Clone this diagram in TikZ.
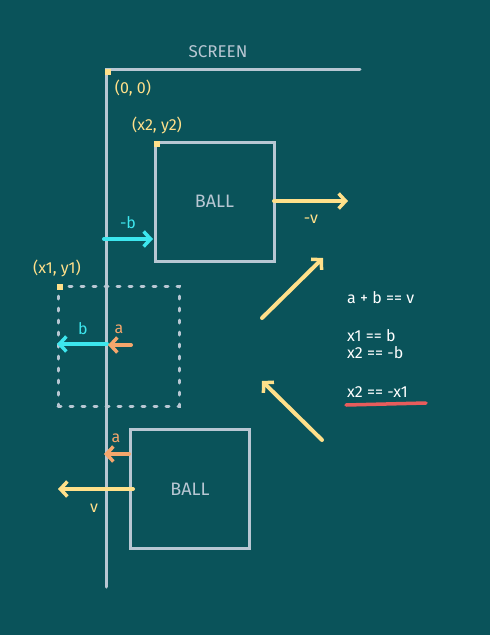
\documentclass[tikz,border=0pt]{standalone}
\usepackage{fontspec}
\setmainfont{Fira Sans}
\usetikzlibrary{arrows.meta}
\definecolor{bg}{HTML}{0A535A}
\definecolor{ln}{HTML}{B8C7D3}
\definecolor{yel}{HTML}{FFE08A}
\definecolor{cya}{HTML}{3DE6EE}
\definecolor{ora}{HTML}{F5A66C}
\definecolor{redu}{HTML}{E85C5C}
\tikzset{
  box/.style={draw=ln, line width=3pt, minimum width=119pt, minimum height=119pt, inner sep=0pt, text=ln, font=\fontsize{18}{21}\selectfont},
  axis/.style={draw=ln, line width=3pt, line cap=round},
  arr/.style={line width=4pt, line cap=round, -{Straight Barb[length=7pt, width=15pt, line width=3.5pt]}},
  lbl/.style={font=\fontsize{16}{19}\selectfont, inner sep=0pt},
  eq/.style={font=\fontsize{16}{19}\selectfont, inner sep=0pt, text=white, anchor=west},
  dot/.style={fill=yel, minimum size=6pt, inner sep=0pt},
}
\begin{document}
\begin{tikzpicture}[x=1pt,y=-1pt]
\fill[bg] (0,0) rectangle (490,635);
\useasboundingbox (0,0) rectangle (490,635);
% screen
\node[lbl, text=ln, font=\fontsize{17}{20}\selectfont] (screen) at (218,52) {SCREEN};
\coordinate (o) at (106,69);
\coordinate (oe) at (360,69);
\coordinate (os) at (106,587);
\draw[axis] (oe) -- (o) -- (os);
\node[dot] (d0) at (108,72) {};
\node[lbl, text=yel] (l00) at (133,88) {(0, 0)};
% ball 1
\node[box] (ball1) at (214.5,201.5) {BALL};
\node[dot] (d2) at (156.5,143.5) {};
\node[lbl, text=yel] (lx2) at (157,125) {(x2, y2)};
\coordinate (v1s) at (274,201);
\coordinate (v1e) at (348,201);
\draw[arr, yel] (v1s) -- (v1e);
\node[lbl, text=yel] (lmv) at (311,219) {-v};
\coordinate (b1s) at (104,239);
\coordinate (b1e) at (153,239);
\draw[arr, cya] (b1s) -- (b1e);
\node[lbl, text=cya] (lmb) at (128,223) {-b};
% dashed ghost
\node[draw=ln, line width=3pt, dash pattern=on 3pt off 9pt, line cap=round, minimum width=121pt, minimum height=120pt, inner sep=0pt] (ghost) at (118.5,346) {};
\node[dot] (d1) at (60,287) {};
\node[lbl, text=yel] (lx1) at (57,268) {(x1, y1)};
\coordinate (bs) at (107,344);
\coordinate (be) at (57,344);
\draw[arr, cya] (bs) -- (be);
\node[lbl, text=cya] (lb) at (83,329) {b};
\coordinate (as) at (131,345);
\coordinate (ae) at (108,345);
\draw[arr, ora] (as) -- (ae);
\node[lbl, text=ora] (la) at (119,329) {a};
% ball 2
\node[box] (ball2) at (190,489) {BALL};
\coordinate (a2s) at (129,454);
\coordinate (a2e) at (104,454);
\draw[arr, ora] (a2s) -- (a2e);
\node[lbl, text=ora] (la2) at (116,438) {a};
\coordinate (v2s) at (133,489);
\coordinate (v2e) at (58,489);
\draw[arr, yel] (v2s) -- (v2e);
\node[lbl, text=yel] (lv) at (94,508) {v};
% diagonal arrows
\coordinate (d1s) at (262,318);
\coordinate (d1e) at (323,258);
\draw[arr, yel] (d1s) -- (d1e);
\coordinate (d2s) at (322,440);
\coordinate (d2e) at (262,381);
\draw[arr, yel] (d2s) -- (d2e);
% equations
\node[eq] (e1) at (347,298) {a + b == v};
\node[eq] (e2) at (347,336) {x1 == b};
\node[eq] (e3) at (347,353) {x2 == -b};
\node[eq] (e4) at (347,392) {x2 == -x1};
\coordinate (us) at (346,405);
\coordinate (ue) at (426,403);
\draw[redu, line width=3.5pt, line cap=round] (us) -- (ue);
\end{tikzpicture}
\end{document}
